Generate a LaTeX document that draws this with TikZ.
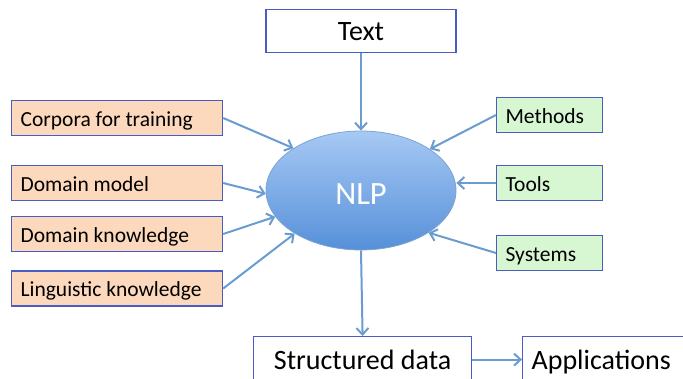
\documentclass[tikz,border=0pt]{standalone}
\usepackage{fontspec}
\setmainfont{Carlito}
\usetikzlibrary{arrows.meta,shapes.geometric}
\definecolor{boxline}{HTML}{4A5CC2}
\definecolor{peach}{HTML}{FCD9BD}
\definecolor{mint}{HTML}{D6F7D2}
\definecolor{arrowblue}{HTML}{6A9BD1}
\definecolor{ellTop}{HTML}{A7C9F4}
\definecolor{ellBot}{HTML}{5690D9}
\definecolor{ellLine}{HTML}{7DA3D3}
\begin{document}
\begin{tikzpicture}[x=1pt,y=-1pt,
  sidebox/.style={draw=boxline, line width=1.2pt, minimum height=35pt, inner xsep=9pt,
    align=flush left, font=\fontsize{21.5}{24}\selectfont, text height=20pt, text depth=3pt, anchor=west},
  leftbox/.style={sidebox, fill=peach, text width=193pt},
  rightbox/.style={sidebox, fill=mint, text width=88pt},
  bigbox/.style={draw=boxline, line width=1.2pt, fill=white, font=\fontsize{28}{32}\selectfont,
    text height=24pt, text depth=4pt},
  link/.style={draw=arrowblue, line width=2pt, -{Straight Barb[length=6.5pt,width=12pt]}}
]
\path[use as bounding box, clip] (0,0) rectangle (683,379);

\node[bigbox, minimum width=190pt, minimum height=43.5pt] (text) at (361,31) {Text};

\node[ellipse, draw=ellLine, line width=0.8pt, top color=ellTop, bottom color=ellBot,
  minimum width=190pt, minimum height=119pt, text=white,
  font=\fontsize{32.5}{36}\selectfont, text height=28pt, text depth=0pt] (nlp) at (361,190.5) {NLP};

\node[leftbox] (corp) at (11,118) {Corpora for training};
\node[leftbox] (dmodel) at (11,183) {Domain model};
\node[leftbox] (dknow) at (11,234) {Domain knowledge};
\node[leftbox] (ling) at (11,288.5) {Linguistic knowledge};

\node[rightbox] (meth) at (496,115) {Methods};
\node[rightbox] (tools) at (496,183) {Tools};
\node[rightbox] (sys) at (496,253) {Systems};

\node[bigbox, minimum width=218pt, minimum height=46pt, anchor=north west] (sd) at (253,336) {Structured data};
\node[bigbox, minimum width=190pt, minimum height=46pt, anchor=north west, text width=172pt,
  inner xsep=9pt, align=flush left] (apps) at (522,336) {Applications};

\draw[link] (text.south) -- (nlp.north);
\draw[link] (corp.east) -- (nlp.148);
\draw[link] (dmodel.east) -- (nlp.182);
\draw[link] (dknow.east) -- (nlp.197);
\draw[link] (ling.east) -- (nlp.213);
\draw[link] (meth.west) -- (nlp.31);
\draw[link] (tools.west) -- (tools.west -| nlp.east);
\draw[link] (sys.west) -- (nlp.-32);
\draw[link] (nlp.south) -- (sd.north);
\draw[link] (sd.east) -- (sd.east -| apps.west);
\end{tikzpicture}
\end{document}
